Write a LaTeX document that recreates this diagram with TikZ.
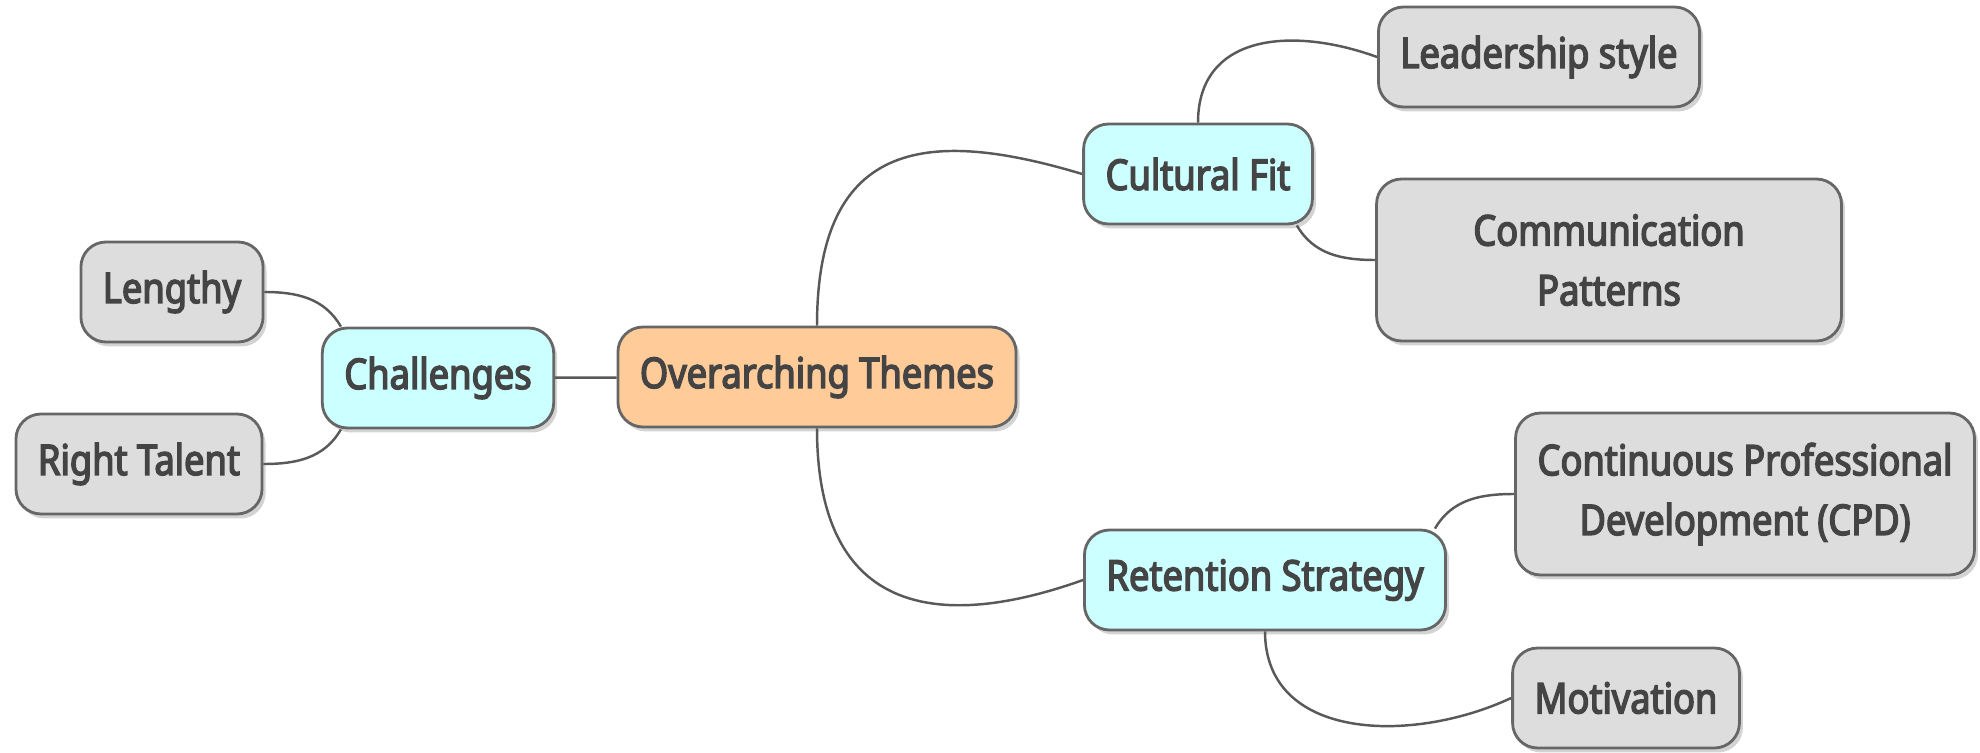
\documentclass[tikz,border=0pt]{standalone}
\usepackage{fontspec}
\newfontfamily\mapfont{Noto Sans}[FakeStretch=0.86,FakeBold=3.5]
\usetikzlibrary{shadows}
\definecolor{themefill}{HTML}{FFCC99}
\definecolor{topicfill}{HTML}{CCFFFF}
\definecolor{leaffill}{HTML}{DDDDDD}
\definecolor{boxline}{HTML}{666666}
\definecolor{ink}{HTML}{444444}

\begin{document}
\begin{tikzpicture}[x=0.02cm,y=0.02cm,
  box/.style={draw=boxline,line width=1.6pt,rounded corners=0.5cm,text=ink,
    font=\mapfont\fontsize{24}{34}\selectfont,align=center,
    minimum height=2cm,inner xsep=0.44cm,
    drop shadow={shadow xshift=0.07cm,shadow yshift=-0.09cm,opacity=0.35}},
  theme/.style={box,fill=themefill},
  topic/.style={box,fill=topicfill},
  leaf/.style={box,fill=leaffill},
  link/.style={draw=black!65,line width=1.4pt}]
\useasboundingbox (0,0) rectangle (1980,-753);
% root and its two sides
\node[theme] (ot) at (817,-377) {Overarching Themes};
\node[topic] (ch) at (438,-378) {Challenges};
\node[leaf] (le) at (172,-292) {Lengthy};
\node[leaf] (rt) at (139,-464) {Right Talent};
\node[topic] (cf) at (1198,-174) {Cultural Fit};
\node[leaf] (ls) at (1539,-57) {Leadership style};
\node[leaf,minimum width=9.3cm,minimum height=3.24cm] (cp) at (1609,-260) {Communication\\Patterns};
\node[topic] (rs) at (1265,-580) {Retention Strategy};
\node[leaf,minimum height=3.24cm] (cpd) at (1745,-494) {Continuous Professional\\Development (CPD)};
\node[leaf] (mo) at (1626,-698) {Motivation};
% branches
\draw[link] (ch) -- (ot);
\draw[link] (ot.north) .. controls +(0,190) and +(-150,45) .. (cf.west);
\draw[link] (ot.south) .. controls +(0,-190) and +(-140,-50) .. (rs.west);
\draw[link] (cf.north) to[out=90,in=160,looseness=1.2] (ls.west);
\draw[link] ([xshift=-0.34cm]cf.south east) to[out=-60,in=180] (cp.west);
\draw[link] ([xshift=-0.24cm]rs.north east) to[out=60,in=180] (cpd.west);
\draw[link] (rs.south) to[out=-90,in=205,looseness=1.1] (mo.west);
\draw[link] ([xshift=0.4cm]ch.north west) to[out=120,in=0] (le.east);
\draw[link] ([xshift=0.4cm]ch.south west) to[out=-120,in=0] (rt.east);
\end{tikzpicture}
\end{document}
